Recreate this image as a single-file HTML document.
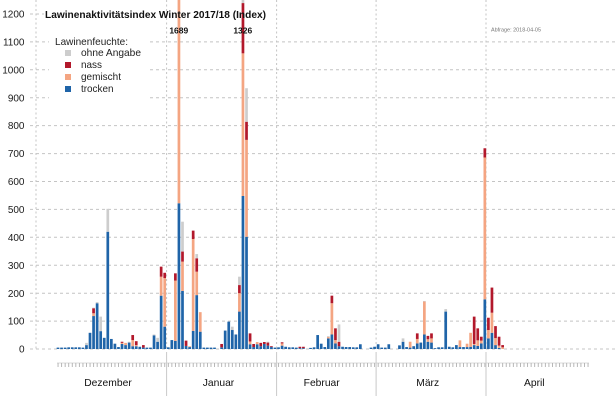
<!DOCTYPE html>
<html><head><meta charset="utf-8">
<style>
html,body{margin:0;padding:0;background:#fff;}
svg{display:block;}
.b{fill:#1f64a8}.s{fill:#f4a582}.r{fill:#b2182b}.g{fill:#cdcdcd}
text{font-family:"Liberation Sans",Arial,sans-serif;}
</style></head>
<body>
<svg width="616" height="400" viewBox="0 0 616 400" xmlns="http://www.w3.org/2000/svg">
<rect width="616" height="400" fill="#fff"/>
<!-- horizontal gridlines -->
<g stroke="#c4c4c4" stroke-width="1" stroke-dasharray="3 3">
<line x1="30" y1="349" x2="616" y2="349"/>
<line x1="30" y1="321.1" x2="616" y2="321.1"/>
<line x1="30" y1="293.2" x2="616" y2="293.2"/>
<line x1="30" y1="265.2" x2="616" y2="265.2"/>
<line x1="30" y1="237.3" x2="616" y2="237.3"/>
<line x1="30" y1="209.4" x2="616" y2="209.4"/>
<line x1="30" y1="181.5" x2="616" y2="181.5"/>
<line x1="30" y1="153.6" x2="616" y2="153.6"/>
<line x1="30" y1="125.6" x2="616" y2="125.6"/>
<line x1="30" y1="97.7" x2="616" y2="97.7"/>
<line x1="30" y1="69.8" x2="616" y2="69.8"/>
<line x1="30" y1="41.9" x2="616" y2="41.9"/>
<line x1="30" y1="14" x2="44" y2="14"/>
</g>
<!-- legend background -->
<rect x="49" y="30" width="99" height="71" fill="#fff"/>
<!-- vertical dashed lines -->
<g stroke="#c4c4c4" stroke-width="1" stroke-dasharray="2 2.5">
<line x1="36" y1="0" x2="36" y2="349"/>
<line x1="166.6" y1="0" x2="166.6" y2="350"/>
<line x1="276.6" y1="0" x2="276.6" y2="350"/>
<line x1="376.1" y1="0" x2="376.1" y2="350"/>
<line x1="486" y1="0" x2="486" y2="350"/>
</g>
<g stroke="#c8c8c8" stroke-width="1">
<line x1="166.6" y1="352" x2="166.6" y2="396"/>
<line x1="276.6" y1="352" x2="276.6" y2="396"/>
<line x1="376.1" y1="352" x2="376.1" y2="396"/>
<line x1="486" y1="352" x2="486" y2="396"/>
</g>
<!-- tick comb -->
<line x1="57" y1="363" x2="589" y2="363" stroke="#cfcfcf" stroke-width="0.7"/>
<line x1="57.6" y1="365" x2="589" y2="365" stroke="#b0b0b0" stroke-width="4" stroke-dasharray="0.9 2.657"/>
<!-- bars -->
<g transform="translate(0,349) scale(1,-0.2792)">
<rect class="b" x="56.65" y="0" width="2.7" height="5"/>
<rect class="b" x="60.21" y="0" width="2.7" height="5"/>
<rect class="b" x="63.76" y="0" width="2.7" height="5"/>
<rect class="b" x="67.32" y="0" width="2.7" height="6"/>
<rect class="b" x="70.88" y="0" width="2.7" height="6"/>
<rect class="b" x="74.44" y="0" width="2.7" height="6"/>
<rect class="b" x="77.99" y="0" width="2.7" height="6"/>
<rect class="b" x="81.55" y="0" width="2.7" height="5"/>
<rect class="b" x="85.11" y="0" width="2.7" height="14"/><rect class="g" x="85.11" y="14" width="2.7" height="8"/>
<rect class="b" x="88.66" y="0" width="2.7" height="58"/>
<rect class="b" x="92.22" y="0" width="2.7" height="118"/><rect class="s" x="92.22" y="118" width="2.7" height="10"/><rect class="r" x="92.22" y="128" width="2.7" height="18"/><rect class="g" x="92.22" y="146" width="2.7" height="2"/>
<rect class="b" x="95.78" y="0" width="2.7" height="164"/><rect class="g" x="95.78" y="164" width="2.7" height="4"/>
<rect class="b" x="99.33" y="0" width="2.7" height="64"/><rect class="g" x="99.33" y="64" width="2.7" height="52"/>
<rect class="b" x="102.89" y="0" width="2.7" height="40"/>
<rect class="b" x="106.45" y="0" width="2.7" height="420"/><rect class="g" x="106.45" y="420" width="2.7" height="82"/>
<rect class="b" x="110.01" y="0" width="2.7" height="36"/>
<rect class="b" x="113.56" y="0" width="2.7" height="19"/>
<rect class="b" x="117.12" y="0" width="2.7" height="7"/>
<rect class="b" x="120.68" y="0" width="2.7" height="18"/><rect class="s" x="120.68" y="18" width="2.7" height="4"/><rect class="r" x="120.68" y="22" width="2.7" height="4"/>
<rect class="b" x="124.23" y="0" width="2.7" height="14"/><rect class="s" x="124.23" y="14" width="2.7" height="8"/>
<rect class="b" x="127.79" y="0" width="2.7" height="23"/><rect class="g" x="127.79" y="23" width="2.7" height="3"/>
<rect class="b" x="131.35" y="0" width="2.7" height="10"/><rect class="s" x="131.35" y="10" width="2.7" height="22"/><rect class="r" x="131.35" y="32" width="2.7" height="18"/>
<rect class="b" x="134.90" y="0" width="2.7" height="10"/><rect class="s" x="134.90" y="10" width="2.7" height="4"/><rect class="r" x="134.90" y="14" width="2.7" height="14"/>
<rect class="b" x="138.46" y="0" width="2.7" height="8"/>
<rect class="b" x="142.02" y="0" width="2.7" height="5"/><rect class="r" x="142.02" y="5" width="2.7" height="9"/>
<rect class="b" x="145.58" y="0" width="2.7" height="5"/>
<rect class="b" x="149.13" y="0" width="2.7" height="5"/>
<rect class="b" x="152.69" y="0" width="2.7" height="49"/><rect class="g" x="152.69" y="49" width="2.7" height="3"/>
<rect class="b" x="156.25" y="0" width="2.7" height="26"/><rect class="g" x="156.25" y="26" width="2.7" height="14"/>
<rect class="b" x="159.80" y="0" width="2.7" height="191"/><rect class="s" x="159.80" y="191" width="2.7" height="68"/><rect class="r" x="159.80" y="259" width="2.7" height="36"/>
<rect class="b" x="163.36" y="0" width="2.7" height="80"/><rect class="s" x="163.36" y="80" width="2.7" height="174"/><rect class="r" x="163.36" y="254" width="2.7" height="19"/>
<rect class="b" x="166.92" y="0" width="2.7" height="6"/>
<rect class="b" x="170.47" y="0" width="2.7" height="32"/>
<rect class="b" x="174.03" y="0" width="2.7" height="29"/><rect class="s" x="174.03" y="29" width="2.7" height="216"/><rect class="r" x="174.03" y="245" width="2.7" height="26"/>
<rect class="b" x="177.59" y="0" width="2.7" height="522"/><rect class="s" x="177.59" y="522" width="2.7" height="1167"/>
<rect class="b" x="181.15" y="0" width="2.7" height="208"/><rect class="s" x="181.15" y="208" width="2.7" height="105"/><rect class="r" x="181.15" y="313" width="2.7" height="36"/><rect class="g" x="181.15" y="349" width="2.7" height="107"/>
<rect class="b" x="184.70" y="0" width="2.7" height="11"/><rect class="r" x="184.70" y="11" width="2.7" height="19"/>
<rect class="b" x="188.26" y="0" width="2.7" height="7"/><rect class="s" x="188.26" y="7" width="2.7" height="3"/>
<rect class="b" x="191.82" y="0" width="2.7" height="65"/><rect class="s" x="191.82" y="65" width="2.7" height="329"/><rect class="r" x="191.82" y="394" width="2.7" height="30"/>
<rect class="b" x="195.37" y="0" width="2.7" height="193"/><rect class="s" x="195.37" y="193" width="2.7" height="84"/><rect class="r" x="195.37" y="277" width="2.7" height="48"/><rect class="g" x="195.37" y="325" width="2.7" height="15"/>
<rect class="b" x="198.93" y="0" width="2.7" height="62"/><rect class="s" x="198.93" y="62" width="2.7" height="70"/>
<rect class="b" x="202.49" y="0" width="2.7" height="5"/>
<rect class="b" x="206.04" y="0" width="2.7" height="5"/>
<rect class="b" x="209.60" y="0" width="2.7" height="5"/>
<rect class="b" x="213.16" y="0" width="2.7" height="5"/>
<rect class="b" x="220.27" y="0" width="2.7" height="6"/><rect class="r" x="220.27" y="6" width="2.7" height="12"/>
<rect class="b" x="223.83" y="0" width="2.7" height="66"/>
<rect class="b" x="227.39" y="0" width="2.7" height="98"/>
<rect class="b" x="230.94" y="0" width="2.7" height="68"/><rect class="g" x="230.94" y="68" width="2.7" height="12"/>
<rect class="b" x="234.50" y="0" width="2.7" height="52"/>
<rect class="b" x="238.06" y="0" width="2.7" height="134"/><rect class="s" x="238.06" y="134" width="2.7" height="66"/><rect class="r" x="238.06" y="200" width="2.7" height="29"/><rect class="g" x="238.06" y="229" width="2.7" height="30"/>
<rect class="b" x="241.61" y="0" width="2.7" height="548"/><rect class="s" x="241.61" y="548" width="2.7" height="511"/><rect class="r" x="241.61" y="1059" width="2.7" height="180"/><rect class="g" x="241.61" y="1239" width="2.7" height="87"/>
<rect class="b" x="245.17" y="0" width="2.7" height="402"/><rect class="s" x="245.17" y="402" width="2.7" height="347"/><rect class="r" x="245.17" y="749" width="2.7" height="65"/><rect class="g" x="245.17" y="814" width="2.7" height="120"/>
<rect class="b" x="248.73" y="0" width="2.7" height="17"/><rect class="s" x="248.73" y="17" width="2.7" height="10"/><rect class="r" x="248.73" y="27" width="2.7" height="29"/>
<rect class="b" x="252.29" y="0" width="2.7" height="7"/><rect class="r" x="252.29" y="7" width="2.7" height="11"/>
<rect class="b" x="255.84" y="0" width="2.7" height="17"/><rect class="s" x="255.84" y="17" width="2.7" height="8"/>
<rect class="b" x="259.40" y="0" width="2.7" height="10"/><rect class="r" x="259.40" y="10" width="2.7" height="12"/>
<rect class="b" x="262.96" y="0" width="2.7" height="18"/><rect class="r" x="262.96" y="18" width="2.7" height="7"/>
<rect class="b" x="266.51" y="0" width="2.7" height="12"/><rect class="r" x="266.51" y="12" width="2.7" height="11"/><rect class="g" x="266.51" y="23" width="2.7" height="3"/>
<rect class="b" x="270.07" y="0" width="2.7" height="7"/><rect class="r" x="270.07" y="7" width="2.7" height="3"/>
<rect class="b" x="273.63" y="0" width="2.7" height="5"/>
<rect class="b" x="277.18" y="0" width="2.7" height="6"/>
<rect class="b" x="280.74" y="0" width="2.7" height="12"/><rect class="s" x="280.74" y="12" width="2.7" height="8"/><rect class="r" x="280.74" y="20" width="2.7" height="4"/>
<rect class="b" x="284.30" y="0" width="2.7" height="8"/>
<rect class="b" x="287.86" y="0" width="2.7" height="6"/>
<rect class="b" x="291.41" y="0" width="2.7" height="6"/>
<rect class="b" x="294.97" y="0" width="2.7" height="5"/>
<rect class="b" x="298.53" y="0" width="2.7" height="3"/><rect class="r" x="298.53" y="3" width="2.7" height="5"/>
<rect class="b" x="302.08" y="0" width="2.7" height="3"/><rect class="r" x="302.08" y="3" width="2.7" height="5"/>
<rect class="b" x="309.20" y="0" width="2.7" height="4"/>
<rect class="b" x="312.75" y="0" width="2.7" height="6"/>
<rect class="b" x="316.31" y="0" width="2.7" height="50"/>
<rect class="b" x="319.87" y="0" width="2.7" height="19"/>
<rect class="b" x="323.43" y="0" width="2.7" height="7"/>
<rect class="b" x="326.98" y="0" width="2.7" height="38"/><rect class="s" x="326.98" y="38" width="2.7" height="5"/><rect class="g" x="326.98" y="43" width="2.7" height="3"/>
<rect class="b" x="330.54" y="0" width="2.7" height="52"/><rect class="s" x="330.54" y="52" width="2.7" height="112"/><rect class="r" x="330.54" y="164" width="2.7" height="27"/>
<rect class="b" x="334.10" y="0" width="2.7" height="20"/><rect class="s" x="334.10" y="20" width="2.7" height="12"/><rect class="r" x="334.10" y="32" width="2.7" height="42"/>
<rect class="b" x="337.65" y="0" width="2.7" height="10"/><rect class="r" x="337.65" y="10" width="2.7" height="16"/><rect class="g" x="337.65" y="26" width="2.7" height="62"/>
<rect class="b" x="341.21" y="0" width="2.7" height="8"/>
<rect class="b" x="344.77" y="0" width="2.7" height="7"/>
<rect class="b" x="348.32" y="0" width="2.7" height="7"/>
<rect class="b" x="351.88" y="0" width="2.7" height="6"/>
<rect class="b" x="355.44" y="0" width="2.7" height="6"/>
<rect class="b" x="359.00" y="0" width="2.7" height="17"/>
<rect class="b" x="369.67" y="0" width="2.7" height="5"/>
<rect class="b" x="373.22" y="0" width="2.7" height="8"/>
<rect class="b" x="376.78" y="0" width="2.7" height="17"/>
<rect class="b" x="380.34" y="0" width="2.7" height="5"/>
<rect class="b" x="383.89" y="0" width="2.7" height="5"/>
<rect class="b" x="387.45" y="0" width="2.7" height="17"/>
<rect class="b" x="398.12" y="0" width="2.7" height="13"/>
<rect class="b" x="401.68" y="0" width="2.7" height="26"/><rect class="g" x="401.68" y="26" width="2.7" height="12"/>
<rect class="b" x="405.24" y="0" width="2.7" height="7"/>
<rect class="b" x="408.79" y="0" width="2.7" height="5"/><rect class="s" x="408.79" y="5" width="2.7" height="21"/>
<rect class="b" x="412.35" y="0" width="2.7" height="10"/>
<rect class="b" x="415.91" y="0" width="2.7" height="20"/><rect class="s" x="415.91" y="20" width="2.7" height="16"/><rect class="r" x="415.91" y="36" width="2.7" height="20"/>
<rect class="b" x="419.46" y="0" width="2.7" height="23"/>
<rect class="b" x="423.02" y="0" width="2.7" height="52"/><rect class="s" x="423.02" y="52" width="2.7" height="118"/><rect class="g" x="423.02" y="170" width="2.7" height="2"/>
<rect class="b" x="426.58" y="0" width="2.7" height="26"/><rect class="s" x="426.58" y="26" width="2.7" height="9"/><rect class="r" x="426.58" y="35" width="2.7" height="12"/>
<rect class="b" x="430.14" y="0" width="2.7" height="23"/><rect class="s" x="430.14" y="23" width="2.7" height="15"/><rect class="r" x="430.14" y="38" width="2.7" height="18"/>
<rect class="b" x="433.69" y="0" width="2.7" height="3"/>
<rect class="b" x="437.25" y="0" width="2.7" height="6"/>
<rect class="b" x="440.81" y="0" width="2.7" height="6"/>
<rect class="b" x="444.36" y="0" width="2.7" height="134"/><rect class="g" x="444.36" y="134" width="2.7" height="9"/>
<rect class="b" x="447.92" y="0" width="2.7" height="8"/>
<rect class="b" x="451.48" y="0" width="2.7" height="6"/>
<rect class="b" x="455.03" y="0" width="2.7" height="14"/>
<rect class="b" x="458.59" y="0" width="2.7" height="7"/><rect class="s" x="458.59" y="7" width="2.7" height="24"/>
<rect class="b" x="462.15" y="0" width="2.7" height="7"/>
<rect class="b" x="465.71" y="0" width="2.7" height="7"/><rect class="s" x="465.71" y="7" width="2.7" height="12"/>
<rect class="b" x="469.26" y="0" width="2.7" height="8"/><rect class="s" x="469.26" y="8" width="2.7" height="50"/>
<rect class="b" x="472.82" y="0" width="2.7" height="14"/><rect class="s" x="472.82" y="14" width="2.7" height="4"/><rect class="r" x="472.82" y="18" width="2.7" height="98"/>
<rect class="b" x="476.38" y="0" width="2.7" height="11"/><rect class="s" x="476.38" y="11" width="2.7" height="20"/><rect class="r" x="476.38" y="31" width="2.7" height="43"/>
<rect class="b" x="479.93" y="0" width="2.7" height="20"/><rect class="s" x="479.93" y="20" width="2.7" height="10"/><rect class="r" x="479.93" y="30" width="2.7" height="14"/>
<rect class="b" x="483.49" y="0" width="2.7" height="178"/><rect class="s" x="483.49" y="178" width="2.7" height="508"/><rect class="r" x="483.49" y="686" width="2.7" height="33"/>
<rect class="b" x="487.05" y="0" width="2.7" height="38"/><rect class="s" x="487.05" y="38" width="2.7" height="30"/><rect class="r" x="487.05" y="68" width="2.7" height="44"/>
<rect class="b" x="490.60" y="0" width="2.7" height="58"/><rect class="s" x="490.60" y="58" width="2.7" height="72"/><rect class="r" x="490.60" y="130" width="2.7" height="90"/>
<rect class="b" x="494.16" y="0" width="2.7" height="14"/><rect class="s" x="494.16" y="14" width="2.7" height="25"/><rect class="r" x="494.16" y="39" width="2.7" height="43"/>
<rect class="b" x="497.72" y="0" width="2.7" height="4"/><rect class="s" x="497.72" y="4" width="2.7" height="8"/><rect class="r" x="497.72" y="12" width="2.7" height="32"/>
<rect class="s" x="501.28" y="0" width="2.7" height="6"/><rect class="r" x="501.28" y="6" width="2.7" height="8"/>
</g>
<!-- y axis labels -->
<g font-size="10" fill="#1a1a1a" text-anchor="end">
<text x="24.5" y="352.6">0</text>
<text x="24.5" y="324.7">100</text>
<text x="24.5" y="296.8">200</text>
<text x="24.5" y="268.8">300</text>
<text x="24.5" y="240.9">400</text>
<text x="24.5" y="213">500</text>
<text x="24.5" y="185.1">600</text>
<text x="24.5" y="157.2">700</text>
<text x="24.5" y="129.2">800</text>
<text x="24.5" y="101.3">900</text>
<text x="24.5" y="73.4">1000</text>
<text x="24.5" y="45.5">1100</text>
<text x="24.5" y="17.6">1200</text>
</g>
<!-- title -->
<text x="45" y="18" font-size="10" font-weight="bold" fill="#111" textLength="221" lengthAdjust="spacingAndGlyphs">Lawinenaktivitätsindex Winter 2017/18 (Index)</text>
<text x="178.8" y="33.3" font-size="8.5" font-weight="bold" fill="#111" text-anchor="middle">1689</text>
<text x="242.8" y="33.3" font-size="8.5" font-weight="bold" fill="#111" text-anchor="middle">1326</text>
<text x="491" y="31.5" font-size="5" fill="#777" textLength="50" lengthAdjust="spacingAndGlyphs">Abfrage: 2018-04-05</text>
<!-- legend -->
<text x="55" y="45" font-size="10.3" fill="#222" textLength="73" lengthAdjust="spacingAndGlyphs">Lawinenfeuchte:</text>
<rect x="65" y="50" width="6" height="6" fill="#cdcdcd"/>
<rect x="65" y="62" width="6" height="6" fill="#b2182b"/>
<rect x="65" y="74" width="6" height="6" fill="#f4a582"/>
<rect x="65" y="86" width="6" height="6" fill="#1f64a8"/>
<g font-size="10.3" fill="#222">
<text x="81" y="56" textLength="60" lengthAdjust="spacingAndGlyphs">ohne Angabe</text>
<text x="81" y="68" textLength="21" lengthAdjust="spacingAndGlyphs">nass</text>
<text x="81" y="80" textLength="40" lengthAdjust="spacingAndGlyphs">gemischt</text>
<text x="81" y="92" textLength="32.5" lengthAdjust="spacingAndGlyphs">trocken</text>
</g>
<!-- month labels -->
<g font-size="10.3" fill="#111" text-anchor="middle">
<text x="108" y="386">Dezember</text>
<text x="218.5" y="386">Januar</text>
<text x="321.7" y="386">Februar</text>
<text x="427.7" y="386">März</text>
<text x="534.3" y="386">April</text>
</g>
</svg>
</body></html>
